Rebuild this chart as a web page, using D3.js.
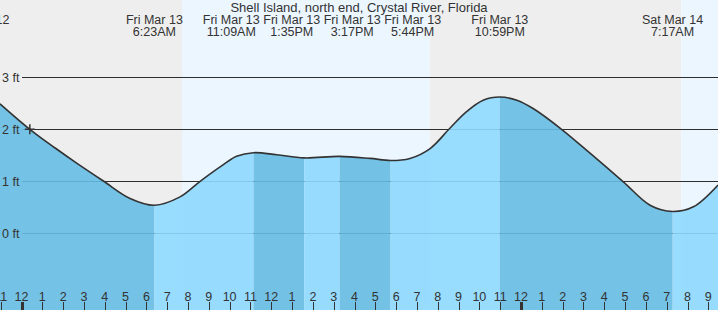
<!DOCTYPE html>
<html><head><meta charset="utf-8">
<script src="https://cdn.jsdelivr.net/npm/d3@7"></script>
<style>
html,body{margin:0;padding:0;background:#fff;overflow:hidden;}
svg{display:block;font-family:"Liberation Sans",Arial,sans-serif;}
</style></head><body>
<svg id="chart" width="718" height="310"></svg>
<script>
// ---------------- data ----------------
const title = "Shell Island, north end, Crystal River, Florida";

// tide extremes
const eventDates  = ["Thu Mar 12","Fri Mar 13","Fri Mar 13","Fri Mar 13","Fri Mar 13","Fri Mar 13","Fri Mar 13","Sat Mar 14"];
const eventTimes  = ["9:53PM","6:23AM","11:09AM","1:35PM","3:17PM","5:44PM","10:59PM","7:17AM"];
const eventStamps = ["2026-03-12T21:53","2026-03-13T06:23","2026-03-13T11:09","2026-03-13T13:35","2026-03-13T15:17","2026-03-13T17:44","2026-03-13T22:59","2026-03-14T07:17"];
const eventTypes  = ["H","L","H","L","H","L","H","L"];

// tide curve readings (ft)
const curveStamps = ["2026-03-12T22:58","2026-03-13T00:24","2026-03-13T01:37","2026-03-13T02:39","2026-03-13T03:55","2026-03-13T05:13","2026-03-13T06:23","2026-03-13T07:37","2026-03-13T08:35","2026-03-13T09:42","2026-03-13T10:20","2026-03-13T11:09","2026-03-13T12:16","2026-03-13T13:35","2026-03-13T15:17","2026-03-13T16:45","2026-03-13T17:44","2026-03-13T18:40","2026-03-13T19:38","2026-03-13T20:35","2026-03-13T21:23","2026-03-13T22:11","2026-03-13T22:59","2026-03-13T23:48","2026-03-14T00:35","2026-03-14T01:57","2026-03-14T03:19","2026-03-14T04:55","2026-03-14T06:12","2026-03-14T07:17","2026-03-14T08:17","2026-03-14T09:28"];
const curveHeights = [2.49,2.00,1.64,1.35,1.01,0.67,0.54,0.70,1.00,1.32,1.48,1.55,1.51,1.45,1.48,1.44,1.40,1.44,1.63,2.02,2.34,2.56,2.62,2.56,2.40,2.00,1.54,0.99,0.54,0.42,0.51,0.93];

// sunrise / sunset
const sunEventStamps = ["2026-03-13T07:43","2026-03-13T19:38","2026-03-14T07:42"];
const sunEventTypes  = ["rise","set","rise"];

const yTickValues = [0,1,2,3];
const yTickLabels = ["0 ft","1 ft","2 ft","3 ft"];
const nowStamp = "2026-03-13T00:24";

// ---------------- chart ----------------
const W = 718, H = 310;
const parse = d3.utcParse("%Y-%m-%dT%H:%M");
const svg = d3.select("#chart");

const dayA = parse("2026-03-13T00:00"), dayB = parse("2026-03-14T00:00");
const x = d3.scaleUtc().domain([dayA, dayB]).range([21.5, 521]);
const t0 = x.invert(0), t1 = x.invert(W);
const y = d3.scaleLinear().domain([0, 3]).range([233.3, 77.3]);

const colNight = "#eeeeee", colDay = "#ecf6ff";
const colFall = "#66bce3", colRise = "#8ed9ff";

// background day/night bands
const sunT = sunEventStamps.map(parse);
const bounds = [t0, ...sunT, t1];
for (let i = 0; i < bounds.length - 1; i++) {
  const nextType = i < sunEventTypes.length ? sunEventTypes[i] : (sunEventTypes[sunEventTypes.length-1] === "rise" ? "set" : "rise");
  const isDay = nextType === "set";
  svg.append("rect")
    .attr("x", x(bounds[i])).attr("y", 0)
    .attr("width", x(bounds[i+1]) - x(bounds[i])).attr("height", H)
    .attr("fill", isDay ? colDay : colNight);
}

// grid lines
svg.append("g").selectAll("line").data(yTickValues).join("line")
  .attr("x1", 22).attr("x2", W)
  .attr("y1", d => Math.round(y(d)) + 0.5).attr("y2", d => Math.round(y(d)) + 0.5)
  .attr("stroke", "#2e2e2e").attr("stroke-width", 1);

// tide area, coloured by phase
const pts = curveStamps.map((s, i) => ({t: parse(s), v: curveHeights[i]}));
const crv = d3.curveCatmullRom.alpha(0.5);
const area = d3.area().x(d => x(d.t)).y0(H).y1(d => y(d.v)).curve(crv);
const line = d3.line().x(d => x(d.t)).y(d => y(d.v)).curve(crv);

const evT = eventStamps.map(parse);
const phaseBounds = [d3.utcHour.offset(t0, -48), ...evT, d3.utcHour.offset(t1, 48)];
const defs = svg.append("defs");
for (let i = 0; i < phaseBounds.length - 1; i++) {
  const nextType = i < eventTypes.length ? eventTypes[i] : (eventTypes[eventTypes.length-1] === "H" ? "L" : "H");
  const rising = nextType === "H";
  const xa = Math.max(-10, x(phaseBounds[i])), xb = Math.min(W + 10, x(phaseBounds[i+1]));
  if (xb <= xa) continue;
  const id = "clip" + i;
  defs.append("clipPath").attr("id", id).append("rect")
    .attr("x", xa).attr("y", 0).attr("width", xb - xa).attr("height", H);
  svg.append("path").datum(pts)
    .attr("d", area)
    .attr("clip-path", `url(#${id})`)
    .attr("fill", rising ? colRise : colFall)
    .attr("fill-opacity", 0.9);
}

// tide line
svg.append("path").datum(pts).attr("d", line)
  .attr("fill", "none").attr("stroke", "#333").attr("stroke-width", 1.6);

// now marker
const nowT = parse(nowStamp);
const nowV = curveHeights[curveStamps.indexOf(nowStamp)];
const nx = x(nowT), ny = y(nowV);
svg.append("path")
  .attr("d", `M${nx-5},${ny}H${nx+5}M${nx},${ny-5}V${ny+5}`)
  .attr("stroke", "#333").attr("stroke-width", 1.5).attr("fill", "none");

// y labels
svg.append("g").selectAll("text").data(yTickValues).join("text")
  .attr("x", 2).attr("y", d => y(d)).attr("dy", "0.35em")
  .attr("font-size", "12.5px").attr("fill", "#333")
  .text((d, i) => yTickLabels[i]);

// bottom hour axis
const hours = d3.utcHour.range(d3.utcHour.ceil(t0), t1);
const ax = svg.append("g");
ax.selectAll("line").data(hours).join("line")
  .attr("x1", d => Math.round(x(d)) + 0.5).attr("x2", d => Math.round(x(d)) + 0.5)
  .attr("y1", 302).attr("y2", H)
  .attr("stroke", "#333")
  .attr("stroke-width", d => d.getUTCHours() === 0 ? 3 : 1);
const fmtH = d3.utcFormat("%-I");
ax.selectAll("text").data(hours).join("text")
  .attr("x", d => x(d)).attr("y", 300.5)
  .attr("text-anchor", "middle").attr("font-size", "12.5px").attr("fill", "#333")
  .text(d => fmtH(d));

// title
svg.append("text").attr("x", W / 2).attr("y", 12)
  .attr("text-anchor", "middle").attr("font-size", "13px").attr("fill", "#333")
  .text(title);

// event labels with simple overlap avoidance
const labG = svg.append("g").attr("font-size", "12.5px").attr("fill", "#333").attr("text-anchor", "middle");
const labs = eventStamps.map((s, i) => {
  const g = labG.append("g");
  const a = g.append("text").attr("y", 24).text(eventDates[i]);
  const b = g.append("text").attr("y", 36).text(eventTimes[i]);
  const w = Math.max(a.node().getComputedTextLength(), b.node().getComputedTextLength());
  return {g, ideal: x(evT[i]), w};
});
const gap = 3.5;
const layout = cl => {
  const total = d3.sum(cl.items, d => d.w) + gap * (cl.items.length - 1);
  const center = d3.mean(cl.items, d => d.ideal);
  let pos = center - total / 2;
  cl.items.forEach(d => { d.pos = pos + d.w / 2; pos += d.w + gap; });
  cl.left = center - total / 2; cl.right = center + total / 2;
};
let clusters = [];
labs.forEach(l => {
  const c0 = {items: [l]};
  layout(c0);
  clusters.push(c0);
  while (clusters.length > 1) {
    const c = clusters[clusters.length - 1], p = clusters[clusters.length - 2];
    if (c.left < p.right) {
      p.items = p.items.concat(c.items);
      clusters.pop();
      layout(p);
    } else break;
  }
});
labs.forEach(l => l.g.selectAll("text").attr("x", l.pos));
</script>
</body></html>
